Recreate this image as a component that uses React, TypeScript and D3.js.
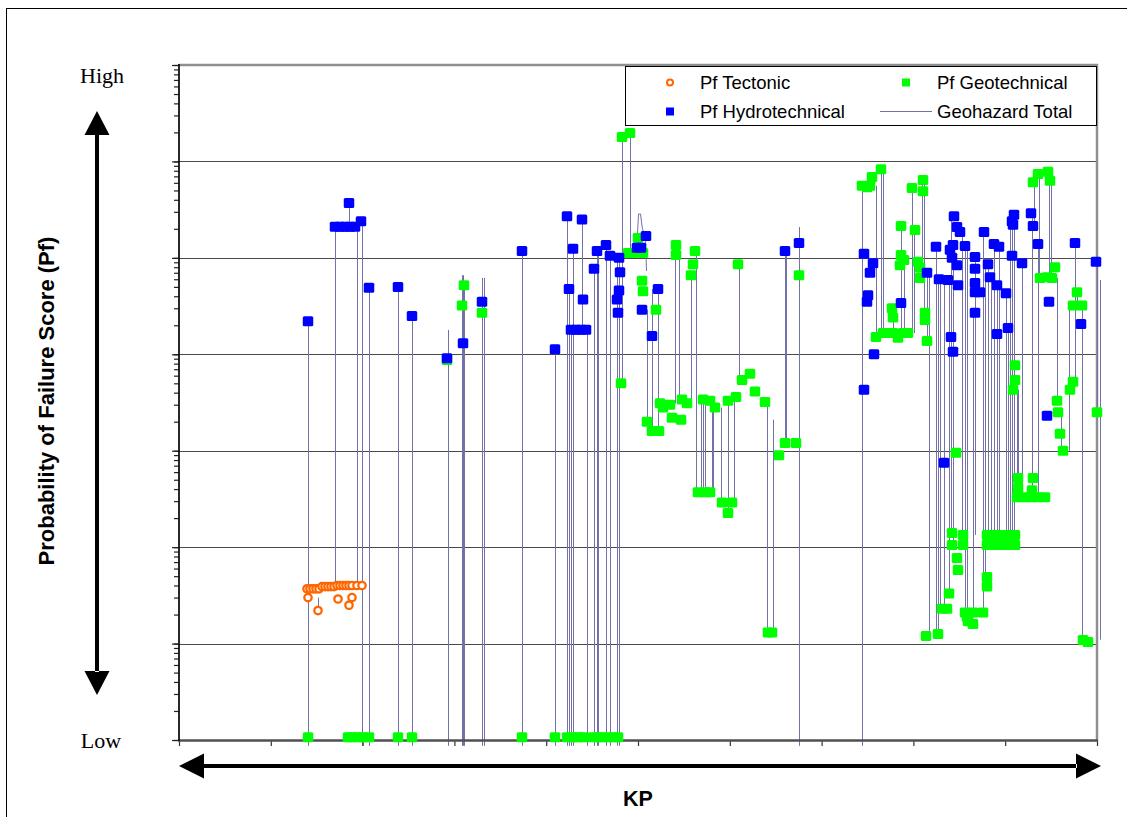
import { useEffect, useRef } from 'react';
import * as d3 from 'd3';

// KP along the route (0..918) and Pf score (log, 1 = Low .. 1e7 = High)
const tectonic: [number, number][] = [
  [128, 37], [131, 37], [134, 37], [137, 37], [140, 37],
  [143, 39], [146, 39], [149, 39], [152, 39], [155, 39],
  [158, 40], [161, 40], [164, 40], [167, 40], [170, 40], [173, 40], [178, 40], [183, 40],
  [129, 30], [139, 22], [159, 29], [170, 25], [173, 30],
];

const hydrotechnical: [number, number][] = [
  [129, 2.2e4], [156, 2.1e5], [161, 2.1e5], [166, 2.1e5], [171, 2.1e5], [176, 2.1e5], [170, 3.7e5],
  [182, 2.4e5], [190, 4.9e4], [219, 5.0e4], [233, 2.5e4], [268, 9.1e3], [284, 1.3e4], [303, 3.5e4],
  [343, 1.18e5], [376, 1.13e4], [388, 2.7e5], [390, 4.75e4], [394, 1.24e5], [392, 1.8e4], [397, 1.8e4],
  [402, 1.8e4], [407, 1.8e4], [403, 2.5e5], [404, 3.7e4], [415, 7.7e4], [418, 1.18e5], [427, 1.36e5],
  [431, 1.05e5], [440, 1.0e5], [441, 7.1e4], [440, 4.6e4], [438, 3.7e4], [439, 2.7e4], [467, 1.69e5],
  [458, 1.27e5], [462, 1.27e5], [463, 2.9e4], [479, 4.75e4], [473, 1.55e4], [606, 1.18e5], [620, 1.43e5],
  [685, 1.1e5], [694, 8.8e4], [691, 7.0e4], [689, 4.1e4], [688, 3.5e4], [695, 1.0e4], [685, 4.3e3],
  [722, 3.4e4], [748, 7.0e4], [757, 1.3e5], [760, 6.0e4], [769, 5.9e4], [779, 5.2e4], [775, 2.7e5],
  [778, 2.09e5], [781, 1.85e5], [771, 1.21e5], [774, 1.36e5], [786, 1.33e5], [773, 1.0e5], [778, 8.4e4],
  [772, 1.51e4], [774, 1.06e4], [765, 750], [796, 1.02e5], [796, 7.7e4], [796, 5.5e4], [796, 4.4e4],
  [801, 4.4e4], [796, 2.7e4], [805, 1.85e5], [809, 8.6e4], [811, 6.3e4], [815, 1.39e5], [820, 1.3e5],
  [818, 5.2e4], [827, 4.3e4], [818, 1.62e4], [829, 1.87e4], [833, 1.05e5], [834, 2.2e5], [835, 2.8e5],
  [833, 2.4e5], [843, 8.8e4], [852, 2.9e5], [854, 2.14e5], [859, 1.39e5], [870, 3.5e4], [868, 2.3e3],
  [896, 1.43e5], [902, 2.06e4], [917, 9.1e4],
];

const geotechnical: [number, number][] = [
  [129, 1.07], [169, 1.07], [173, 1.07], [179, 1.07], [184, 1.07], [190, 1.07], [219, 1.07], [233, 1.07],
  [343, 1.07], [376, 1.07], [388, 1.07], [394, 1.07], [399, 1.07], [404, 1.07], [414, 1.07], [419, 1.07],
  [424, 1.07], [429, 1.07], [434, 1.07], [439, 1.07],
  [268, 8.7e3], [285, 5.2e4], [283, 3.2e4], [303, 2.7e4],
  [442, 5.0e3], [443, 1.79e6], [451, 1.97e6], [449, 1.12e5], [454, 1.12e5], [459, 1.61e5], [464, 1.12e5],
  [463, 5.8e4], [464, 4.5e4], [477, 2.9e4], [468, 2.0e3], [473, 1.6e3], [480, 1.6e3], [497, 1.36e5],
  [497, 1.07e5], [481, 3.1e3], [484, 2.8e3], [491, 3.0e3], [493, 2.2e3], [502, 2.1e3], [503, 3.4e3],
  [508, 3.1e3], [524, 3.4e3], [531, 3.3e3], [536, 2.8e3], [549, 3.3e3], [557, 3.6e3], [563, 5.4e3],
  [571, 6.3e3], [576, 4.1e3], [586, 3.2e3], [516, 1.18e5], [514, 8.6e4], [512, 6.6e4], [559, 8.6e4],
  [620, 6.6e4], [519, 370], [526, 370], [531, 370], [543, 290], [549, 226], [553, 290], [589, 13],
  [593, 13], [600, 900], [606, 1.2e3], [617, 1.2e3],
  [683, 5.6e5], [688, 5.4e5], [691, 5.6e5], [693, 6.9e5], [702, 8.3e5], [697, 1.51e4], [704, 1.66e4],
  [709, 1.66e4], [714, 1.66e4], [719, 1.48e4], [724, 1.66e4], [729, 1.66e4], [713, 3.0e4], [714, 2.4e4],
  [722, 2.14e5], [722, 1.07e5], [725, 9.5e4], [721, 8.4e4], [733, 5.3e5], [736, 1.95e5], [744, 6.4e5],
  [744, 4.9e5], [739, 9.1e4], [741, 7.9e4], [741, 6.2e4], [746, 2.7e4], [746, 2.27e4], [748, 1.37e4],
  [777, 950], [747, 12], [759, 12.6], [763, 23], [768, 23], [770, 33], [773, 140], [773, 105], [778, 77],
  [779, 58], [784, 134], [784, 105], [788, 19], [789, 17], [786, 21],
  [794, 21], [804, 21], [794, 16], [808, 49], [808, 39], [808, 134], [815, 134], [822, 134], [829, 134],
  [836, 134], [808, 105], [815, 105], [822, 105], [829, 105], [836, 105], [836, 7.7e3], [836, 5.4e3],
  [834, 4.3e3], [839, 520], [854, 520], [839, 410], [838, 330], [845, 330], [852, 330], [859, 330],
  [866, 330], [853, 390], [854, 6.1e5], [859, 7.4e5], [869, 7.8e5], [871, 6.3e5], [861, 6.2e4],
  [868, 6.3e4], [876, 8.0e4], [873, 6.2e4], [878, 3.3e3], [879, 2.5e3], [881, 1.5e3], [884, 1.0e3],
  [894, 5.2e3], [891, 4.3e3], [898, 4.4e4], [894, 3.2e4], [903, 3.2e4], [918, 2.5e3], [904, 10.9],
  [909, 10.4],
];

// geohazard total: vertical runs [kp, high, low]; low 0 means it drops to zero
const totalRuns: [number, number, number][] = [
  [129, 2.2e4, 0], [139, 30, 22], [156, 2.1e5, 38], [170, 3.7e5, 2.1e5], [178, 2.1e5, 39],
  [183, 2.4e5, 0], [190, 4.9e4, 0], [219, 5.0e4, 0], [233, 2.5e4, 0], [269, 1.79e4, 0],
  [283, 6.6e4, 0], [284, 6.6e4, 0], [285, 5.2e4, 0], [303, 6.2e4, 0], [305, 6.2e4, 0],
  [343, 1.18e5, 0], [376, 1.13e4, 0], [388, 2.7e5, 0], [390, 4.75e4, 0], [392, 1.8e4, 0],
  [394, 1.24e5, 0], [403, 2.5e5, 1.8e4], [408, 1.8e4, 0], [415, 7.7e4, 0], [418, 1.18e5, 0],
  [419, 1.18e5, 0], [427, 1.36e5, 0], [431, 1.05e5, 0], [438, 1.0e5, 0], [440, 1.0e5, 0],
  [443, 1.79e6, 5.0e3], [451, 1.97e6, 1.12e5], [468, 2.9e4, 2.0e3], [473, 4.75e4, 1.6e3],
  [479, 4.75e4, 1.6e3], [496, 1.36e5, 3.1e3], [500, 1.36e5, 3.1e3], [512, 6.6e4, 3.4e3],
  [517, 1.18e5, 370], [522, 3.4e3, 370], [524, 3.4e3, 370], [526, 3.4e3, 370], [533, 2.8e3, 370],
  [534, 2.8e3, 370], [542, 2.8e3, 290], [549, 3.4e3, 226], [555, 3.6e3, 290], [560, 8.6e4, 5.4e3],
  [588, 3.0e3, 13], [594, 2.1e3, 13], [606, 1.18e5, 1.2e3], [607, 1.18e5, 1.2e3], [620, 2.09e5, 0],
  [683, 5.6e5, 0], [697, 5.6e5, 1.51e4], [702, 8.3e5, 1.66e4], [704, 8.3e5, 1.66e4],
  [714, 3.0e4, 1.66e4], [722, 2.14e5, 1.66e4], [725, 9.5e4, 1.66e4], [733, 5.3e5, 1.66e4],
  [735, 1.95e5, 1.66e4], [743, 6.4e5, 6.2e4], [745, 6.4e5, 2.7e4], [748, 7.0e4, 1.41e4],
  [750, 7.0e4, 12], [757, 1.3e5, 12.6], [759, 6.0e4, 12.6], [761, 5.9e4, 23], [765, 5.9e4, 23],
  [770, 5.9e4, 33], [772, 2.7e5, 140], [774, 1.36e5, 105], [783, 1.85e5, 134], [786, 1.33e5, 19],
  [788, 1.21e5, 17], [794, 2.7e4, 21], [796, 1.02e5, 134], [804, 1.85e5, 21], [806, 8.6e4, 49],
  [809, 8.6e4, 134], [812, 6.3e4, 134], [815, 1.39e5, 134], [818, 5.2e4, 134], [820, 1.3e5, 134],
  [827, 4.3e4, 134], [829, 1.87e4, 134], [831, 2.8e5, 134], [833, 2.8e5, 134], [835, 2.8e5, 134],
  [838, 4.3e3, 330], [839, 4.3e3, 520], [843, 8.8e4, 330], [853, 2.9e5, 390], [855, 6.1e5, 1.95e5],
  [859, 1.39e5, 330], [860, 7.4e5, 6.2e4], [870, 7.8e5, 6.2e4], [872, 7.8e5, 6.2e4],
  [878, 6.2e4, 3.3e3], [882, 2.5e3, 1.0e3], [890, 3.4e4, 1.0e3], [896, 1.43e5, 5.2e3],
  [898, 4.4e4, 3.2e4], [903, 3.2e4, 10.9], [918, 9.1e4, 2.5e3], [921, 5.9e4, 11],
];

// the short wiggle of the total line around KP 460
const totalTrace: [number, number][] = [
  [457, 1.12e5], [459, 2.85e5], [461, 2.85e5], [462, 2.35e5], [463, 2.0e5], [465, 1.73e5], [466, 1.53e5], [467, 7.3e4],
];

const seriesNames = ['Pf Tectonic', 'Pf Geotechnical', 'Pf Hydrotechnical', 'Geohazard Total'];
const scaleLabels = ['High', 'Low'];
const kpMax = 918;
const pfDomain = [1, 1e7];

const colors = {
  tectonic: '#ff6600',
  geo: '#00ff00',
  hydro: '#0000ff',
  total: '#7272a8',
};

const sans = 'Liberation Sans, Arial, sans-serif';
const serif = 'Liberation Serif, Times New Roman, serif';

export default function App() {
  const ref = useRef<SVGSVGElement>(null);

  useEffect(() => {
    const svg = d3.select(ref.current);
    svg.selectAll('*').remove();

    const left = 179;
    const right = 1097;
    const top = 65;
    const bottom = 740;

    const x = d3.scaleLinear().domain([0, kpMax]).range([left, right]);
    const y = d3.scaleLog().domain(pfDomain).range([bottom, top]);
    // zero values sit just under the axis
    const yv = (v: number) => y(v <= 0 ? 0.87 : v);

    svg
      .append('rect')
      .attr('x', 6.5)
      .attr('y', 8.5)
      .attr('width', 1130)
      .attr('height', 820)
      .attr('fill', 'white')
      .attr('stroke', 'black');

    // gridlines at each decade
    const allTicks = y.ticks(10);
    const decades = allTicks.filter(t => Math.abs(Math.log10(t) - Math.round(Math.log10(t))) < 1e-9);
    svg
      .append('g')
      .selectAll('line')
      .data(decades.filter(t => t > pfDomain[0] && t < pfDomain[1]))
      .enter()
      .append('line')
      .attr('x1', left)
      .attr('x2', right)
      .attr('y1', d => Math.round(y(d)) + 0.5)
      .attr('y2', d => Math.round(y(d)) + 0.5)
      .attr('stroke', '#4a4a4a')
      .attr('stroke-width', 1);

    // plot frame
    svg
      .append('path')
      .attr('d', `M${left},${top}H${right}V${bottom}`)
      .attr('fill', 'none')
      .attr('stroke', '#8f8f8f')
      .attr('stroke-width', 2.5);

    // geohazard total
    const runPts: ([number, number] | null)[] = [];
    totalRuns.forEach(([kp, hi, lo]) => {
      runPts.push([kp, hi], [kp, lo], null);
    });
    const line = d3
      .line<[number, number] | null>()
      .defined(d => d !== null)
      .x(d => Math.round(x(d![0])) + 0.5)
      .y(d => yv(d![1]));
    svg
      .append('path')
      .attr('d', line(runPts))
      .attr('fill', 'none')
      .attr('stroke', colors.total)
      .attr('stroke-width', 1);
    svg
      .append('path')
      .attr('d', line(totalTrace))
      .attr('fill', 'none')
      .attr('stroke', colors.total)
      .attr('stroke-width', 1);

    // axes
    const xAxis = d3
      .axisBottom(x)
      .tickValues(d3.range(11).map(i => (i * kpMax) / 10))
      .tickSize(6)
      .tickFormat(() => '');
    const gx = svg.append('g').attr('transform', `translate(0, ${bottom})`).call(xAxis);
    gx.select('.domain').remove();
    gx.selectAll('line').attr('stroke', '#333').attr('stroke-width', 1.2);

    const minorAxis = d3
      .axisLeft(y)
      .tickValues(allTicks)
      .tickSize(5)
      .tickFormat(() => '');
    const gy = svg.append('g').attr('transform', `translate(${left}, 0)`).call(minorAxis);
    gy.select('.domain').remove();
    gy.selectAll('line').attr('stroke', '#222').attr('stroke-width', 1.2);

    const majorAxis = d3
      .axisLeft(y)
      .tickValues(decades)
      .tickSize(7)
      .tickFormat(() => '');
    const gy2 = svg.append('g').attr('transform', `translate(${left}, 0)`).call(majorAxis);
    gy2.select('.domain').remove();
    gy2.selectAll('line').attr('stroke', '#222').attr('stroke-width', 1.2);

    svg
      .append('line')
      .attr('x1', left - 1)
      .attr('x2', right + 1)
      .attr('y1', bottom + 0.5)
      .attr('y2', bottom + 0.5)
      .attr('stroke', '#505050')
      .attr('stroke-width', 2.5);
    svg
      .append('line')
      .attr('x1', left)
      .attr('x2', left)
      .attr('y1', top - 1)
      .attr('y2', bottom + 1)
      .attr('stroke', '#111')
      .attr('stroke-width', 1.8);

    // markers
    svg
      .append('g')
      .selectAll('circle')
      .data(tectonic)
      .enter()
      .append('circle')
      .attr('cx', d => x(d[0]))
      .attr('cy', d => y(d[1]))
      .attr('r', 3.7)
      .attr('fill', 'white')
      .attr('stroke', colors.tectonic)
      .attr('stroke-width', 2.3);

    const squares = (data: [number, number][], fill: string) =>
      svg
        .append('g')
        .selectAll('rect')
        .data(data)
        .enter()
        .append('rect')
        .attr('x', d => x(d[0]) - 5.25)
        .attr('y', d => yv(d[1]) - 5)
        .attr('width', 10.5)
        .attr('height', 10)
        .attr('rx', 1.5)
        .attr('fill', fill);
    squares(geotechnical, colors.geo);
    squares(hydrotechnical, colors.hydro);

    // legend
    const lg = svg.append('g');
    lg.append('rect')
      .attr('x', 625.5)
      .attr('y', 66.5)
      .attr('width', 471)
      .attr('height', 59)
      .attr('fill', 'white')
      .attr('stroke', 'black');
    seriesNames.forEach((name, i) => {
      const col = i % 2;
      const row = Math.floor(i / 2);
      const sx = col === 0 ? 670 : 906;
      const tx = col === 0 ? 700 : 937;
      const cy = row === 0 ? 82.5 : 111.5;
      if (i === 0) {
        lg.append('circle')
          .attr('cx', sx)
          .attr('cy', cy)
          .attr('r', 3)
          .attr('fill', 'white')
          .attr('stroke', colors.tectonic)
          .attr('stroke-width', 2);
      } else if (i === 3) {
        lg.append('line')
          .attr('x1', 880)
          .attr('x2', 932)
          .attr('y1', cy)
          .attr('y2', cy)
          .attr('stroke', colors.total)
          .attr('stroke-width', 1);
      } else {
        lg.append('rect')
          .attr('x', sx - 4)
          .attr('y', cy - 4)
          .attr('width', 8)
          .attr('height', 8)
          .attr('fill', i === 1 ? colors.geo : colors.hydro);
      }
      lg.append('text')
        .attr('x', tx)
        .attr('y', cy + 6.3)
        .style('font-family', sans)
        .style('font-size', '18.5px')
        .style('fill', 'black')
        .text(name);
    });

    // High / Low scale and arrows
    svg
      .append('text')
      .attr('x', 102)
      .attr('y', 83)
      .attr('text-anchor', 'middle')
      .style('font-family', serif)
      .style('font-size', '22px')
      .text(scaleLabels[0]);
    svg
      .append('text')
      .attr('x', 101)
      .attr('y', 748)
      .attr('text-anchor', 'middle')
      .style('font-family', serif)
      .style('font-size', '22px')
      .text(scaleLabels[1]);

    const arrowPath = d3.path();
    // vertical
    arrowPath.moveTo(97, 111);
    arrowPath.lineTo(109.5, 135);
    arrowPath.lineTo(84.5, 135);
    arrowPath.closePath();
    arrowPath.moveTo(97, 695);
    arrowPath.lineTo(109.5, 671);
    arrowPath.lineTo(84.5, 671);
    arrowPath.closePath();
    arrowPath.rect(95, 134, 4, 538);
    // horizontal
    arrowPath.moveTo(179, 766);
    arrowPath.lineTo(204, 753.5);
    arrowPath.lineTo(204, 778.5);
    arrowPath.closePath();
    arrowPath.moveTo(1101, 766);
    arrowPath.lineTo(1076, 753.5);
    arrowPath.lineTo(1076, 778.5);
    arrowPath.closePath();
    arrowPath.rect(203, 764, 874, 4);
    svg.append('path').attr('d', arrowPath.toString()).attr('fill', 'black');

    svg
      .append('text')
      .attr('x', 638)
      .attr('y', 806)
      .attr('text-anchor', 'middle')
      .style('font-family', sans)
      .style('font-weight', 'bold')
      .style('font-size', '21.5px')
      .text('KP');

    svg
      .append('text')
      .attr('transform', 'translate(54, 401) rotate(-90)')
      .attr('text-anchor', 'middle')
      .style('font-family', sans)
      .style('font-weight', 'bold')
      .style('font-size', '22px')
      .text('Probability of Failure Score (Pf)');
  }, []);

  return (
    <svg
      ref={ref}
      width={1127}
      height={817}
      style={{ position: 'absolute', left: 0, top: 0, background: 'white' }}
    />
  );
}
